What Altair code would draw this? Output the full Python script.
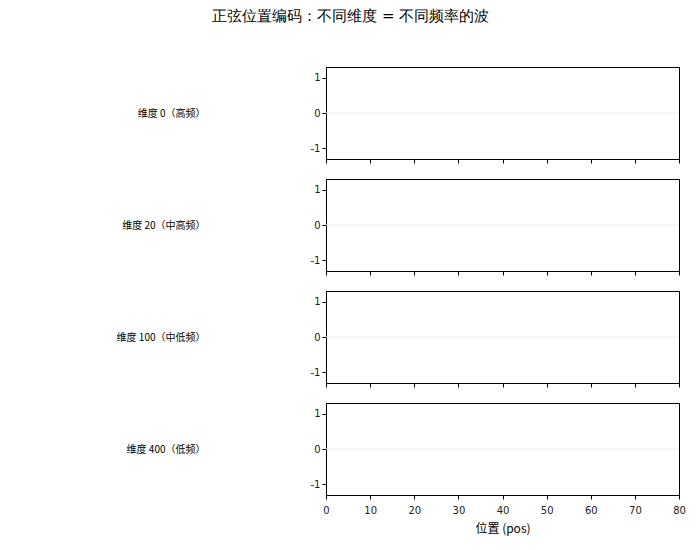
import altair as alt
import pandas as pd

row_labels = ["维度 0（高频）", "维度 20（中高频）", "维度 100（中低频）", "维度 400（低频）"]
x_ticks = [0, 10, 20, 30, 40, 50, 60, 70, 80]
y_ticks = [-1, 0, 1]
x_range = [0, 80]
y_range = [-1.3, 1.3]
zero_line = [0]

FONT = "DejaVu Sans"
CJK = "Noto Sans CJK SC"

def panel(label, last):
    df = pd.DataFrame({"x0": [x_range[0]], "x1": [x_range[1]], "y": zero_line})
    xaxis = alt.Axis(values=x_ticks, title="位置 (pos)" if last else None,
                     labels=last, grid=False, tickSize=4, domainColor="black",
                     tickColor="black", labelColor="#222", labelFontSize=10,
                     labelPadding=6, titleFont=CJK,
                     titleFontSize=12, titleFontWeight="normal", titleColor="black",
                     titlePadding=8, labelFlush=False)
    yaxis = alt.Axis(values=y_ticks, title=label, grid=False, tickSize=4,
                     domainColor="black", tickColor="black", labelColor="#222",
                     labelFontSize=10, labelExpr="replace(datum.label, '−', '-')",
                     titleAngle=0, titleAlign="right", titleFont=CJK,
                     titleBaseline="middle", titleX=-121, titleY=46,
                     titleFontSize=10, titleFontWeight="normal", titleColor="black")
    return alt.Chart(df).mark_rule(color="#eeeeee", strokeWidth=1).encode(
        x=alt.X("x0:Q", scale=alt.Scale(domain=x_range, nice=False), axis=xaxis),
        x2="x1",
        y=alt.Y("y:Q", scale=alt.Scale(domain=y_range, nice=False, zero=False), axis=yaxis),
    ).properties(width=353, height=92)

charts = [panel(l, i == len(row_labels) - 1) for i, l in enumerate(row_labels)]

chart = alt.vconcat(*charts, spacing=20, bounds="flush").properties(
    title=alt.TitleParams("正弦位置编码：不同维度 = 不同频率的波", fontSize=15, font=FONT,
                          fontWeight="normal", color="black", anchor="middle",
                          offset=43, dx=-50),
    padding={"left": 107, "top": 0, "right": 5, "bottom": 5},
).configure(font=FONT).configure_view(stroke="black", strokeWidth=1)

chart.save("out.html", embed_options={"renderer": "svg", "actions": False})
